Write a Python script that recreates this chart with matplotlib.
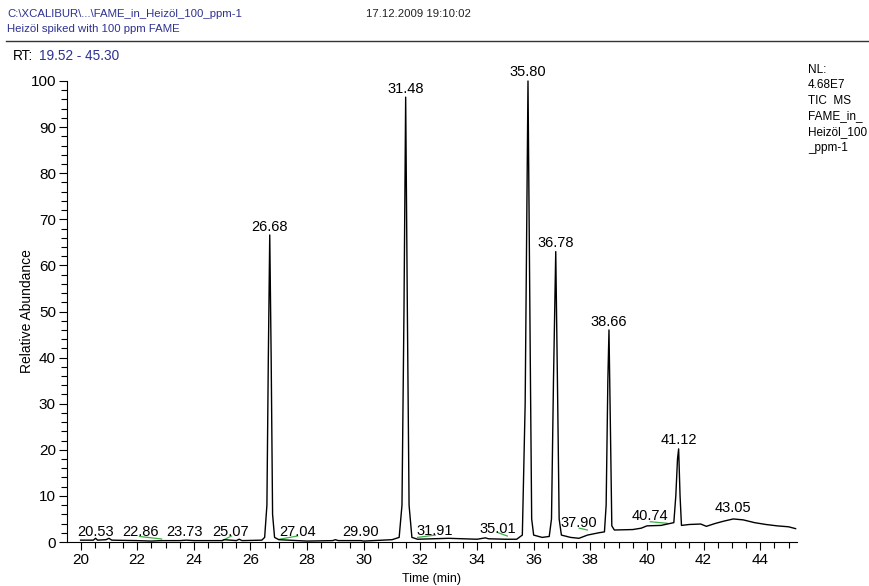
import matplotlib
matplotlib.use("Agg")
import matplotlib.pyplot as plt
from matplotlib.ticker import MultipleLocator

plt.rcParams['font.family'] = ['Liberation Sans', 'DejaVu Sans']

# Chromatogram trace (time in min, relative abundance in %)
trace_time = [20.00, 20.45, 20.53, 20.60, 20.90, 21.00, 21.10, 22.00, 22.50, 22.86, 23.50, 23.73,
              24.00, 25.00, 25.07, 25.50, 25.60, 25.70, 26.40, 26.50, 26.58, 26.63, 26.68, 26.73,
              26.78, 26.85, 27.00, 28.00, 28.90, 29.00, 29.10, 29.90, 30.00, 31.00, 31.25, 31.35,
              31.42, 31.48, 31.54, 31.60, 31.70, 31.90, 33.00, 34.00, 34.30, 34.40, 35.00, 35.40,
              35.60, 35.70, 35.80, 35.88, 35.93, 36.00, 36.30, 36.55, 36.63, 36.70, 36.78, 36.85,
              36.90, 36.98, 37.30, 37.60, 37.90, 38.30, 38.50, 38.56, 38.62, 38.66, 38.71, 38.76,
              38.85, 39.50, 39.80, 40.00, 40.50, 40.80, 40.95, 41.02, 41.08, 41.12, 41.17, 41.22,
              41.50, 41.90, 42.10, 42.40, 42.70, 43.05, 43.40, 43.80, 44.20, 44.60, 45.00, 45.25]
trace_abund = [0.4, 0.4, 0.8, 0.4, 0.5, 0.8, 0.4, 0.3, 0.2, 0.3, 0.3, 0.4,
               0.3, 0.3, 0.5, 0.3, 0.6, 0.3, 0.4, 1.0, 8.0, 40.0, 66.6, 40.0,
               6.0, 1.0, 0.5, 0.2, 0.3, 0.5, 0.3, 0.3, 0.2, 0.5, 1.0, 8.0,
               50.0, 96.5, 50.0, 8.0, 1.0, 0.6, 0.8, 0.6, 0.9, 0.7, 0.6, 0.6,
               1.5, 30.0, 100.0, 40.0, 5.0, 1.5, 1.0, 1.2, 5.0, 35.0, 63.0, 30.0,
               5.0, 1.5, 1.0, 0.8, 1.5, 2.0, 2.2, 8.0, 35.0, 46.0, 25.0, 3.5,
               2.6, 2.7, 3.0, 3.5, 3.6, 4.0, 4.2, 10.0, 18.0, 20.2, 10.0, 3.6,
               3.8, 3.9, 3.4, 4.0, 4.5, 5.0, 4.8, 4.2, 3.8, 3.5, 3.3, 2.9]

# Peak labels: retention time, label centre (time) and label baseline height
peak_rt = [20.53, 22.86, 23.73, 25.07, 26.68, 27.04, 29.90, 31.48, 31.91, 35.01,
           35.80, 36.78, 37.90, 38.66, 40.74, 41.12, 43.05]
label_x = [20.53, 22.10, 23.67, 25.30, 26.68, 27.66, 29.88, 31.48, 32.50, 34.72,
           35.80, 36.78, 37.61, 38.66, 40.09, 41.12, 43.05]
label_y = [1.4, 1.4, 1.4, 1.4, 67.4, 1.4, 1.4, 97.5, 1.6, 1.9,
           101.0, 63.9, 3.3, 46.8, 4.7, 21.2, 6.4]

# Small green label connector marks (start/end)
mark_x0 = [22.08, 25.00, 27.02, 31.90, 34.75, 37.61, 40.12]
mark_y0 = [1.2, 0.3, 0.6, 1.0, 2.0, 3.0, 4.4]
mark_x1 = [22.86, 25.33, 27.66, 32.53, 35.07, 37.90, 40.72]
mark_y1 = [0.65, 1.3, 1.3, 1.5, 1.3, 2.6, 4.05]

x_range = (19.52, 45.30)
nl_lines = ["NL:", "4.68E7", "TIC  MS", "FAME_in_", "Heizöl_100", "_ppm-1"]

blue = '#2e3192'

fig = plt.figure(figsize=(8.7, 5.86), dpi=100)
ax = fig.add_axes([67/870, 1-542/586, 730/870, 461/586])

for x0, y0, x1, y1 in zip(mark_x0, mark_y0, mark_x1, mark_y1):
    ax.plot([x0, x1], [y0, y1], color='#3cb043', lw=0.9)

ax.plot(trace_time, trace_abund, color='black', lw=1.0, clip_on=False)

for rt, lx, ly in zip(peak_rt, label_x, label_y):
    ax.text(lx, ly, f"{rt:.2f}", ha='center', va='baseline', fontsize=10.5, clip_on=False)

ax.set_xlim(*x_range)
ax.set_ylim(0, 100)
ax.spines['top'].set_visible(False)
ax.spines['right'].set_visible(False)
ax.xaxis.set_major_locator(MultipleLocator(2))
ax.xaxis.set_minor_locator(MultipleLocator(0.5))
ax.yaxis.set_major_locator(MultipleLocator(10))
ax.yaxis.set_minor_locator(MultipleLocator(2))
ax.tick_params(axis='both', which='major', length=6, width=0.8, labelsize=11, pad=2)
ax.tick_params(axis='both', which='minor', length=4, width=0.8)
ax.set_xlabel("Time (min)", fontsize=9, labelpad=4)
ax.set_ylabel("Relative Abundance", fontsize=10)
ax.yaxis.set_label_coords(-0.045, 0.5)

# Header
fig.text(7/870, 1-14/586, "C:\\XCALIBUR\\...\\FAME_in_Heizöl_100_ppm-1", color=blue,
         fontsize=8.2, va='center', ha='left')
fig.text(366/870, 1-14/586, "17.12.2009 19:10:02", color='#222222',
         fontsize=8.2, va='center', ha='left')
fig.text(7/870, 1-29/586, "Heizöl spiked with 100 ppm FAME", color=blue,
         fontsize=8.2, va='center', ha='left')
fig.add_artist(plt.Line2D([6/870, 1.0], [1-41/586, 1-41/586], color='#333333', lw=1.0))
fig.text(13/870, 1-56/586, "RT:", color='black', fontsize=9.8, va='center', ha='left')
fig.text(39/870, 1-56/586, "19.52 - 45.30", color=blue, fontsize=9.8, va='center', ha='left')

for i, line in enumerate(nl_lines):
    fig.text(808/870, 1-(70 + i*15.5)/586, line, fontsize=8.5, va='center', ha='left')

fig.savefig("out.png", dpi=100)
